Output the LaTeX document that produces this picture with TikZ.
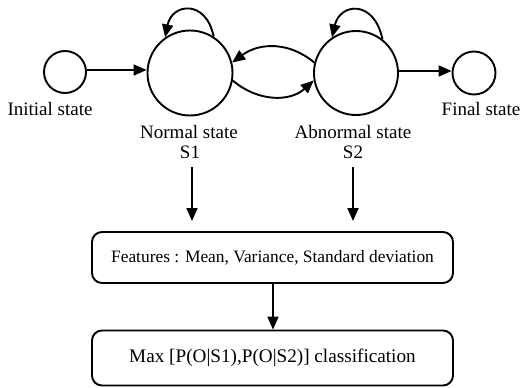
\documentclass[tikz,border=0pt]{standalone}
\usepackage{fontspec}
\setmainfont{Liberation Serif}
\usetikzlibrary{arrows.meta}
\begin{document}
\begin{tikzpicture}[x=1pt,y=-1pt,
  line width=1.9pt,
  state/.style={draw, circle, inner sep=0pt, line width=1.9pt},
  lbl/.style={inner sep=0pt, font=\fontsize{19}{22}\selectfont},
  box/.style={draw, rounded corners=10pt, line width=1.9pt, minimum width=361pt, inner sep=0pt},
  arr/.style={-{Triangle[length=13pt,width=11pt]}, line width=1.9pt}
]
\useasboundingbox (0,0) rectangle (523,388);
% states
\node[state, minimum size=42pt] (init) at (65,72) {};
\node[state, minimum size=85pt] (s1) at (190,73) {};
\node[state, minimum size=84pt] (s2) at (356,73) {};
\node[state, minimum size=43pt] (fin) at (474,73) {};
% labels
\node[lbl] (linit) at (50,109) {Initial state};
\node[lbl] (ls1) at (189,132) {Normal state};
\node[lbl] (ls1b) at (190,152) {S1};
\node[lbl] (ls2) at (353,132) {Abnormal state};
\node[lbl] (ls2b) at (353,152) {S2};
\node[lbl] (lfin) at (481,109) {Final state};
% boxes
\node[box, minimum height=51pt, font=\fontsize{17.4}{20}\selectfont] (feat) at (272.5,257.5) {Features : Mean, Variance, Standard deviation};
\node[box, minimum height=55pt, font=\fontsize{19.2}{22}\selectfont] (maxc) at (272.5,358) {Max [P(O|S1),P(O|S2)] classification};
% helper coordinates for down arrows
\coordinate (d1s) at (192,167);
\coordinate (d1e) at (192,221);
\coordinate (d2s) at (353,167);
\coordinate (d2e) at (353,221);
% connectors
\draw[arr] (init.east |- 0,70) -- (s1.west |- 0,70);
\draw[arr] (s2.east |- 0,71) -- (fin.west |- 0,71);
\draw[arr] (s1.57) .. controls (206,-1) and (172,3) .. (s1.125);
\draw[arr] (s2.52) .. controls (374,-1) and (340,3) .. (s2.124);
\draw[arr] (s2.166) .. controls (290,42) and (260,42) .. (s1.14);
\draw[arr] (s1.-10) .. controls (258,102) and (290,102) .. (s2.190);
\draw[arr] (d1s) -- (d1e);
\draw[arr] (d2s) -- (d2e);
\draw[arr] (feat.south -| 273,0) -- (maxc.north -| 273,0);
\end{tikzpicture}
\end{document}
